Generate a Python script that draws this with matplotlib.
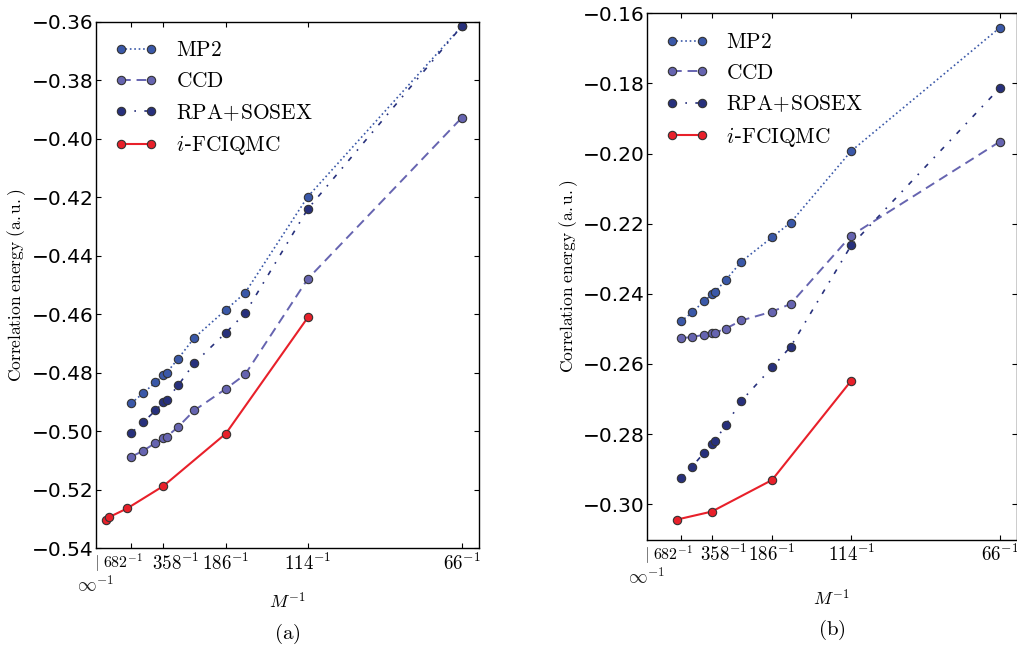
import matplotlib
matplotlib.use("Agg")
import matplotlib.pyplot as plt
import matplotlib.transforms as mtransforms
import numpy as np

plt.rcParams['mathtext.fontset'] = 'cm'
plt.rcParams['font.family'] = ['DejaVu Sans']

# Basis set sizes M
M_all = [682, 514, 406, 358, 342, 294, 246, 186, 162, 114, 66]
M_qmc_a = [2400, 1800, 778, 358, 186, 114]
M_qmc_b = [778, 358, 186, 114]

# Panel (a)
mp2_a = [-0.4904, -0.4870, -0.4833, -0.4808, -0.4800, -0.4752, -0.4681, -0.4585, -0.4527, -0.4198, -0.3615]
ccd_a = [-0.5087, -0.5067, -0.5040, -0.5024, -0.5019, -0.4985, -0.4929, -0.4855, -0.4806, -0.4479, -0.3928]
rpa_a = [-0.5005, -0.4970, -0.4929, -0.4901, -0.4893, -0.4843, -0.4768, -0.4663, -0.4597, -0.4240, -0.3615]
qmc_a = [-0.5304, -0.5293, -0.5264, -0.5187, -0.5008, -0.4611]

# Panel (b)
mp2_b = [-0.2479, -0.2453, -0.2421, -0.2402, -0.2395, -0.2360, -0.2308, -0.2239, -0.2197, -0.1993, -0.1641]
ccd_b = [-0.2527, -0.2523, -0.2517, -0.2513, -0.2511, -0.2499, -0.2476, -0.2451, -0.2429, -0.2234, -0.1966]
rpa_b = [-0.2926, -0.2893, -0.2853, -0.2828, -0.2820, -0.2773, -0.2705, -0.2610, -0.2551, -0.2262, -0.1813]
qmc_b = [-0.3044, -0.3021, -0.2931, -0.2648]

tick_M = [682, 358, 186, 114, 66]
yticks_a = [-0.54, -0.52, -0.50, -0.48, -0.46, -0.44, -0.42, -0.40, -0.38, -0.36]
yticks_b = [-0.30, -0.28, -0.26, -0.24, -0.22, -0.20, -0.18, -0.16]

c_mp2 = '#3a58a8'
c_ccd = '#6664b0'
c_rpa = '#27307c'
c_qmc = '#e8202a'

fig = plt.figure(figsize=(10.17, 6.49), dpi=100)
ax_a = fig.add_axes([0.0944, 0.1552, 0.3769, 0.8114])
ax_b = fig.add_axes([0.6359, 0.168, 0.3638, 0.8116])

def inv(m):
    return 1.0 / np.asarray(m, dtype=float)

def draw(ax, mp2, ccd, rpa, qmc, Mq, ylim, yticks, cap, xl_y, cap_y):
    mk = dict(marker='o', markersize=6, markeredgecolor='#333333', markeredgewidth=0.8)
    ax.plot(inv(M_all), mp2, linestyle=':', color=c_mp2, markerfacecolor=c_mp2, lw=1.2,
            label=r'$\mathrm{MP2}$', **mk)
    ax.plot(inv(M_all), ccd, linestyle='--', color=c_ccd, markerfacecolor=c_ccd, lw=1.4,
            dashes=(5, 3), label=r'$\mathrm{CCD}$', **mk)
    ax.plot(inv(M_all), rpa, linestyle='-.', color=c_rpa, markerfacecolor=c_rpa, lw=1.2,
            dashes=(3, 5, 1, 5), label=r'$\mathrm{RPA\!+\!SOSEX}$', **mk)
    ax.plot(inv(Mq), qmc, linestyle='-', color=c_qmc, markerfacecolor=c_qmc, lw=1.5,
            label=r'$i$' + '-' + r'$\mathrm{FCIQMC}$', **mk)
    ax.set_xlim(0, 1.0 / 63)
    ax.set_ylim(*ylim)
    ax.set_yticks(yticks)
    ax.set_yticklabels(['\u2212%.2f' % abs(v) for v in yticks], fontsize=14.5)
    ax.set_xticks(inv(tick_M))
    ax.set_xticklabels([r'$%d^{-1}$' % m for m in tick_M], fontsize=13.7)
    ax.tick_params(direction='in', top=True, right=True, length=3.5, width=0.8)
    ax.tick_params(axis='y', pad=1.5)
    ax.tick_params(axis='x', pad=3)
    for t, m in zip(ax.get_xticklabels(), tick_M):
        if m == 682:
            t.set_fontsize(11.5)
            t.set_transform(t.get_transform() + mtransforms.Affine2D().translate(-8, 0))
        if m == 358:
            t.set_transform(t.get_transform() + mtransforms.Affine2D().translate(12, 0))
    for s in ax.spines.values():
        s.set_linewidth(1.0)
    # infinity label below origin
    ax.annotate(r'$|$', xy=(0, 0), xycoords=ax.get_xaxis_transform(), xytext=(0, -5),
                textcoords='offset pixels', ha='center', va='top', fontsize=12, color='#333333')
    ax.annotate(r'$\infty^{-1}$', xy=(0, 0), xycoords=ax.get_xaxis_transform(), xytext=(0, -27),
                textcoords='offset pixels', ha='center', va='top', fontsize=13.5, color='#222222')
    ax.set_xlabel(r'$M^{-1}$', fontsize=13)
    ax.xaxis.set_label_coords(0.5, xl_y)
    ax.set_ylabel(r'$\mathrm{Correlation\ energy\ (a.u.)}$', fontsize=12.5)
    ax.text(0.5, cap_y, cap, transform=ax.transAxes, ha='center', va='top', fontsize=15)
    ax.legend(loc='upper left', numpoints=2, frameon=False, fontsize=15.4,
              handlelength=2.0, handletextpad=0.85, labelspacing=0.5,
              borderaxespad=0.48, borderpad=0.4)

draw(ax_a, mp2_a, ccd_a, rpa_a, qmc_a, M_qmc_a, (-0.54, -0.36), yticks_a, r'$\mathrm{(a)}$', -0.083, -0.14)
draw(ax_b, mp2_b, ccd_b, rpa_b, qmc_b, M_qmc_b, (-0.3102, -0.16), yticks_b, r'$\mathrm{(b)}$', -0.093, -0.147)
ax_a.yaxis.set_label_coords(-0.177, 0.5)
ax_b.yaxis.set_label_coords(-0.18, 0.5)

fig.savefig('out.png', dpi=100)
